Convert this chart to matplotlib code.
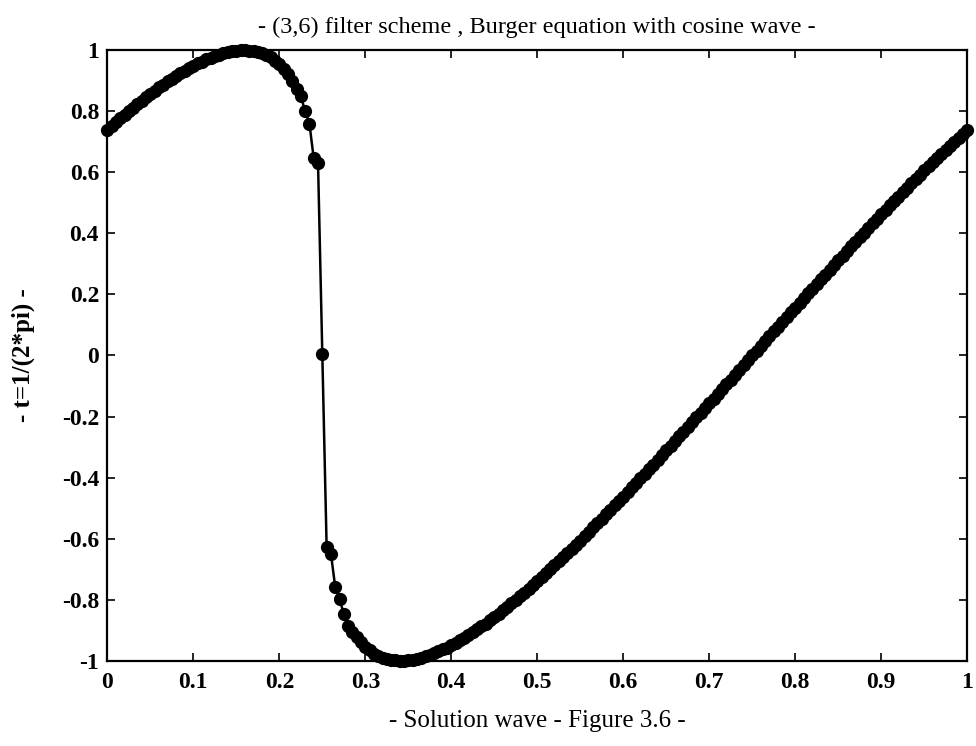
"""(3,6) filter scheme, Burger equation with cosine wave - solution at t = 1/(2*pi).

Recreates "Figure 3.6": the numerical solution on a uniform 200-interval grid, plotted
as a line with filled circle markers (MATLAB 'o-' style).
"""

import matplotlib

matplotlib.use("Agg")
import matplotlib.pyplot as plt
import numpy as np

# Solution values u(x_i), x_i = i/200, i = 0..200.
# 0 <= x <= 0.25: rising to the crest, then the steepened front.
U_CREST = [
    0.739, 0.751, 0.764, 0.776, 0.788, 0.800, 0.811, 0.823, 0.834, 0.845,
    0.856, 0.867, 0.878, 0.887, 0.897, 0.906, 0.916, 0.924, 0.932, 0.940,
    0.948, 0.956, 0.962, 0.969, 0.975, 0.981, 0.985, 0.989, 0.993, 0.996,
    0.997, 0.999, 1.000, 0.998, 0.996, 0.994, 0.989, 0.983, 0.976, 0.965,
    0.955, 0.938, 0.922, 0.898, 0.872, 0.848, 0.800, 0.759, 0.645, 0.630,
    0.005,
]
# 0.25 < x <= 0.5: below the front, down through the trough.
U_TROUGH = [
    -0.626, -0.649, -0.758, -0.797, -0.846, -0.884, -0.905, -0.922, -0.938, -0.955,
    -0.965, -0.976, -0.983, -0.989, -0.994, -0.996, -0.998, -1.000, -0.999, -0.997,
    -0.996, -0.993, -0.989, -0.985, -0.981, -0.975, -0.969, -0.962, -0.956, -0.948,
    -0.940, -0.932, -0.924, -0.916, -0.906, -0.897, -0.887, -0.878, -0.867, -0.856,
    -0.845, -0.834, -0.823, -0.811, -0.800, -0.788, -0.776, -0.764, -0.751, -0.739,
]
# 0.5 < x <= 1: the long expansion back up to the periodic end value.
U_EXPANSION = [
    -0.726, -0.713, -0.700, -0.687, -0.674, -0.660, -0.647, -0.633, -0.620, -0.606,
    -0.592, -0.577, -0.563, -0.549, -0.535, -0.520, -0.506, -0.491, -0.477, -0.462,
    -0.447, -0.432, -0.417, -0.402, -0.387, -0.372, -0.357, -0.342, -0.327, -0.311,
    -0.296, -0.281, -0.265, -0.250, -0.234, -0.219, -0.203, -0.188, -0.172, -0.157,
    -0.141, -0.125, -0.110, -0.094, -0.079, -0.063, -0.047, -0.031, -0.016, 0.000,
    0.016, 0.031, 0.047, 0.063, 0.079, 0.094, 0.110, 0.125, 0.141, 0.157,
    0.172, 0.188, 0.203, 0.219, 0.234, 0.250, 0.265, 0.281, 0.296, 0.311,
    0.327, 0.342, 0.357, 0.372, 0.387, 0.402, 0.417, 0.432, 0.447, 0.462,
    0.477, 0.491, 0.506, 0.520, 0.535, 0.549, 0.563, 0.577, 0.592, 0.606,
    0.620, 0.633, 0.647, 0.660, 0.674, 0.687, 0.700, 0.713, 0.726, 0.739,
]

X_TICKS = [0, 0.1, 0.2, 0.3, 0.4, 0.5, 0.6, 0.7, 0.8, 0.9, 1]
X_TICK_LABELS = ["0", "0.1", "0.2", "0.3", "0.4", "0.5", "0.6", "0.7", "0.8", "0.9", "1"]
Y_TICKS = [-1, -0.8, -0.6, -0.4, -0.2, 0, 0.2, 0.4, 0.6, 0.8, 1]
Y_TICK_LABELS = ["-1", "-0.8", "-0.6", "-0.4", "-0.2", "0", "0.2", "0.4", "0.6", "0.8", "1"]

TITLE = "- (3,6) filter scheme , Burger equation with cosine wave -"
XLABEL = "- Solution wave - Figure 3.6 -"
YLABEL = "- t=1/(2*pi) -"


def plot_solution():
    plt.rcParams["font.family"] = ["Liberation Serif", "DejaVu Serif"]

    u = np.array(U_CREST + U_TROUGH + U_EXPANSION)
    x = np.linspace(0.0, 1.0, len(u))  # uniform grid, 200 intervals

    fig = plt.figure(figsize=(9.76, 7.46), dpi=100)
    ax = fig.add_axes([0.110, 0.114, 0.881, 0.819])

    ax.plot(x, u, "-", color="black", lw=1.8, marker="o", ms=8.5,
            mfc="black", mec="black", clip_on=False, zorder=3)

    ax.set_xlim(0, 1)
    ax.set_ylim(-1, 1)
    ax.set_xticks(X_TICKS, X_TICK_LABELS)
    ax.set_yticks(Y_TICKS, Y_TICK_LABELS)
    ax.tick_params(direction="in", length=6, width=1.2, top=True, right=True,
                   labelsize=17)
    ax.tick_params(axis="x", pad=8)
    ax.tick_params(axis="y", pad=6)
    for label in ax.get_xticklabels() + ax.get_yticklabels():
        label.set_fontweight("bold")
    for spine in ax.spines.values():
        spine.set_linewidth(1.6)

    ax.set_title(TITLE, fontsize=17.5, pad=12)
    ax.set_xlabel(XLABEL, fontsize=18, labelpad=12)
    ax.set_ylabel(YLABEL, fontsize=18, fontweight="bold", labelpad=19)
    return fig


def main() -> None:
    fig = plot_solution()
    fig.savefig("out.png", dpi=100)


if __name__ == "__main__":
    main()
